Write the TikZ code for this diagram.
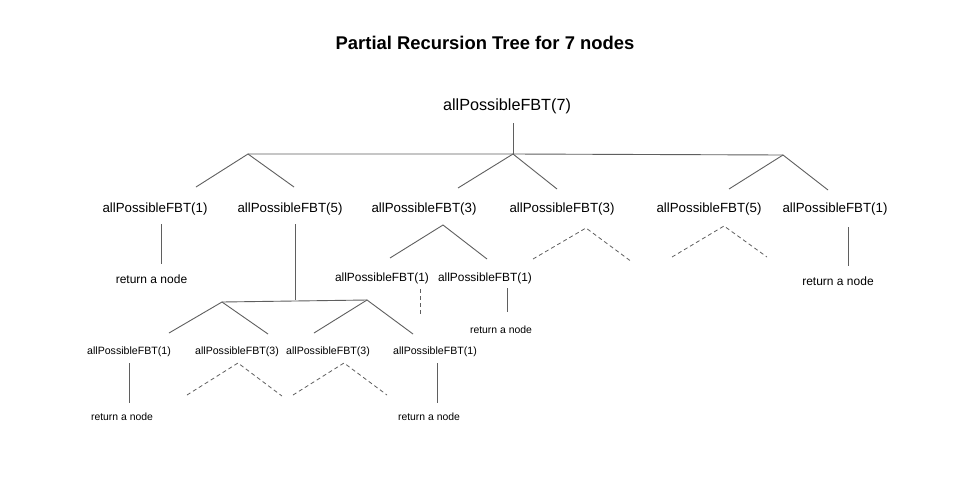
\documentclass[tikz,border=0pt]{standalone}
\usepackage{fontspec}
\setmainfont{Liberation Sans}
\definecolor{linecol}{RGB}{95,95,95}
\begin{document}
\begin{tikzpicture}[x=1pt,y=-1pt,
  edge/.style={draw=linecol,line width=0.9pt},
  dedge/.style={draw=linecol,line width=0.8pt,dash pattern=on 4pt off 3pt},
  lbl/.style={inner sep=0pt,anchor=center,text=black},
  lbln/.style={lbl,yshift=-1pt},
  big/.style={lbln,font=\fontsize{16.2}{18}\selectfont},
  mid/.style={lbln,font=\fontsize{13.3}{15}\selectfont},
  sml/.style={lbln,font=\fontsize{11.9}{14}\selectfont},
  tiny/.style={lbln,font=\fontsize{10.6}{12}\selectfont},
  ret/.style={lbln,font=\fontsize{12}{14}\selectfont},
  rets/.style={lbln,font=\fontsize{10.4}{12}\selectfont}]
\useasboundingbox (0,0) rectangle (960,480);
\fill[white] (0,0) rectangle (960,480);

% title
\node[lbl,font=\fontsize{18.4}{21}\bfseries] (title) at (485,43) {Partial Recursion Tree for 7 nodes};

% root
\node[big] (root) at (507,105) {allPossibleFBT(7)};
\coordinate (rootb) at (513,123);
\coordinate (hA) at (248,154);
\coordinate (hB) at (513,154);
\coordinate (hC) at (783,155);
\draw[edge] (rootb) -- (hB);
\draw[edge] (hA) -- (hB) -- (hC);

% level 1 labels
\node[mid] (a1) at (155,208) {allPossibleFBT(1)};
\node[mid] (a5) at (290,208) {allPossibleFBT(5)};
\node[mid] (b3) at (424,208) {allPossibleFBT(3)};
\node[mid] (c3) at (562,208) {allPossibleFBT(3)};
\node[mid] (d5) at (709,208) {allPossibleFBT(5)};
\node[mid] (e1) at (835,208) {allPossibleFBT(1)};

% level 1 branches
\coordinate (hAl) at (196,187); \coordinate (hAr) at (294,187);
\coordinate (hBl) at (458,188); \coordinate (hBr) at (557,189);
\coordinate (hCl) at (729,189); \coordinate (hCr) at (828,190);
\draw[edge] (hAl) -- (hA) -- (hAr);
\draw[edge] (hBl) -- (hB) -- (hBr);
\draw[edge] (hCl) -- (hC) -- (hCr);

% a1 -> return
\coordinate (a1t) at (161,224); \coordinate (a1b) at (161,264);
\draw[edge] (a1t) -- (a1b);
\node[ret] (ra1) at (151.5,278) {return a node};

% e1 -> return
\coordinate (e1t) at (848,227); \coordinate (e1b) at (848,266);
\draw[edge] (e1t) -- (e1b);
\node[ret] (re1) at (838,280) {return a node};

% c3 dashed
\coordinate (c3a) at (586,228); \coordinate (c3l) at (533,259); \coordinate (c3r) at (632,262);
\draw[dedge] (c3l) -- (c3a) -- (c3r);
% d5 dashed
\coordinate (d5a) at (724,226); \coordinate (d5l) at (672,257); \coordinate (d5r) at (767,257);
\draw[dedge] (d5l) -- (d5a) -- (d5r);

% b3 subtree
\coordinate (b3a) at (443,225); \coordinate (b3l) at (390,258); \coordinate (b3r) at (487,259);
\draw[edge] (b3l) -- (b3a) -- (b3r);
\node[sml] (b31) at (382,277) {allPossibleFBT(1)};
\node[sml] (b32) at (485,277) {allPossibleFBT(1)};
\coordinate (b31t) at (420,289); \coordinate (b31b) at (420,316);
\draw[dedge] (b31t) -- (b31b);
\coordinate (b32t) at (507,288); \coordinate (b32b) at (507,312);
\draw[edge] (b32t) -- (b32b);
\node[rets] (rb32) at (501,329) {return a node};

% a5 subtree
\coordinate (a5t) at (295,224); \coordinate (a5h) at (295,300);
\draw[edge] (a5t) -- (a5h);
\coordinate (gA) at (222,302); \coordinate (gB) at (367,300);
\draw[edge] (gA) -- (gB);
\coordinate (gAl) at (169,333); \coordinate (gAr) at (268,334);
\coordinate (gBl) at (314,333); \coordinate (gBr) at (413,334);
\draw[edge] (gAl) -- (gA) -- (gAr);
\draw[edge] (gBl) -- (gB) -- (gBr);

\node[tiny] (g1) at (129,351) {allPossibleFBT(1)};
\node[tiny] (g2) at (237,351) {allPossibleFBT(3)};
\node[tiny] (g3) at (328,351) {allPossibleFBT(3)};
\node[tiny] (g4) at (435,351) {allPossibleFBT(1)};

\coordinate (g1t) at (129,363); \coordinate (g1b) at (129,403);
\draw[edge] (g1t) -- (g1b);
\node[rets] (rg1) at (122,416) {return a node};
\coordinate (g4t) at (437,363); \coordinate (g4b) at (437,403);
\draw[edge] (g4t) -- (g4b);
\node[rets] (rg4) at (429,416) {return a node};

\coordinate (g2a) at (238,363); \coordinate (g2l) at (187,395); \coordinate (g2r) at (282,396);
\draw[dedge] (g2l) -- (g2a) -- (g2r);
\coordinate (g3a) at (344,363); \coordinate (g3l) at (293,395); \coordinate (g3r) at (387,395);
\draw[dedge] (g3l) -- (g3a) -- (g3r);
\end{tikzpicture}
\end{document}
